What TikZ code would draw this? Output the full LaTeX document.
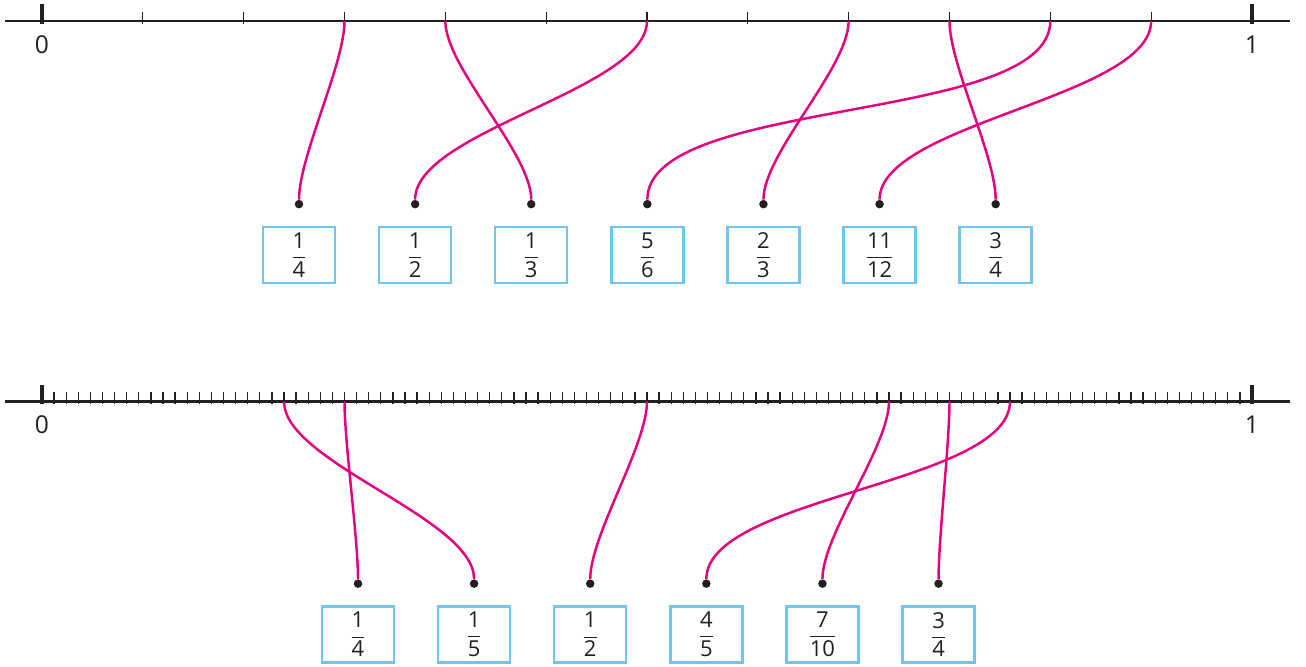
\documentclass[tikz,border=0pt]{standalone}
\usepackage{amsmath}
\usepackage{fontspec}
\setmainfont{Open Sans}
\usepackage{tikz}
\usetikzlibrary{positioning}

\definecolor{pinkline}{HTML}{E6007E}
\definecolor{boxblue}{HTML}{6EC6EE}
\definecolor{ink}{HTML}{231F20}
\newcommand{\fr}[2]{$\dfrac{\text{#1}}{\text{#2}}$}

\begin{document}
\begin{tikzpicture}[x=0.2mm, y=0.2mm,
  node distance=3.4mm and 8.33mm,
  box/.style={draw=boxblue, line width=1.4pt, minimum width=14.4mm,
              minimum height=11.2mm, inner sep=0pt, text=ink,
              font=\fontsize{12.5}{14}\selectfont},
  dot/.style={circle, fill=ink, inner sep=0pt, minimum size=1.7mm},
  link/.style={pinkline, line width=1.4pt, looseness=0.6},
  axis/.style={ink, line width=1.3pt},
  tick/.style={ink, line width=0.7pt},
  lbl/.style={text=ink, font=\fontsize{14}{16}\selectfont}]
\useasboundingbox (0,0) rectangle (1306,666);

% top number line (twelfths)
\draw[axis] (5,645) -- (1290,645);
\foreach \i in {0,...,12}
  \coordinate (a\i) at (42+\i*100.83,645);
\foreach \i in {1,...,11}
  \draw[tick] (a\i) ++(0,-3) -- ++(0,11.5);
\draw[ink, line width=2.2pt] (a0) ++(0,-3) -- ++(0,19.5);
\draw[ink, line width=2.2pt] (a12) ++(0,-3) -- ++(0,19.5);
\node[lbl] (top0) at (42,621) {0};
\node[lbl] (top1) at (1252,621) {1};

% bottom number line (hundredths)
\draw[axis] (5,264.5) -- (1290,264.5);
\foreach \i in {0,...,100}
  \coordinate (b\i) at (42+\i*12.1,264.5);
\foreach \i in {1,...,99}
  \draw[tick] (b\i) ++(0,-2.5) -- ++(0,11.5);
\foreach \i in {10,20,...,90}
  \draw[ink, line width=1.6pt] (b\i) ++(0,-3) -- ++(0,12.5);
\draw[ink, line width=2.2pt] (b0) ++(0,-3) -- ++(0,19.5);
\draw[ink, line width=2.2pt] (b100) ++(0,-3) -- ++(0,19.5);
\node[lbl] (bot0) at (42,241) {0};
\node[lbl] (bot1) at (1252,241) {1};

% top cards
\node[box] (q1) at (299,411) {\fr{1}{4}};
\node[box, right=of q1] (q2) {\fr{1}{2}};
\node[box, right=of q2] (q3) {\fr{1}{3}};
\node[box, right=of q3] (q4) {\fr{5}{6}};
\node[box, right=of q4] (q5) {\fr{2}{3}};
\node[box, right=of q5] (q6) {\fr{11}{12}};
\node[box, right=of q6] (q7) {\fr{3}{4}};
\foreach \n in {1,...,7}
  \node[dot, above=of q\n] (p\n) {};

\draw[link] (a3) to[out=-90, in=90] (p1);
\draw[link] (a6) to[out=-90, in=90] (p2);
\draw[link] (a4) to[out=-90, in=90] (p3);
\draw[link] (a10) to[out=-90, in=90] (p4);
\draw[link] (a8) to[out=-90, in=90] (p5);
\draw[link] (a11) to[out=-90, in=90] (p6);
\draw[link] (a9) to[out=-90, in=90] (p7);

% bottom cards
\node[box] (r1) at (358,31.5) {\fr{1}{4}};
\node[box, right=of r1] (r2) {\fr{1}{5}};
\node[box, right=of r2] (r3) {\fr{1}{2}};
\node[box, right=of r3] (r4) {\fr{4}{5}};
\node[box, right=of r4] (r5) {\fr{7}{10}};
\node[box, right=of r5] (r6) {\fr{3}{4}};
\foreach \n in {1,...,6}
  \node[dot, above=of r\n] (s\n) {};

\draw[link] (b25) to[out=-90, in=90] (s1);
\draw[link] (b20) to[out=-90, in=90] (s2);
\draw[link] (b50) to[out=-90, in=90] (s3);
\draw[link] (b80) to[out=-90, in=90] (s4);
\draw[link] (b70) to[out=-90, in=90] (s5);
\draw[link] (b75) to[out=-90, in=90] (s6);
\end{tikzpicture}
\end{document}
